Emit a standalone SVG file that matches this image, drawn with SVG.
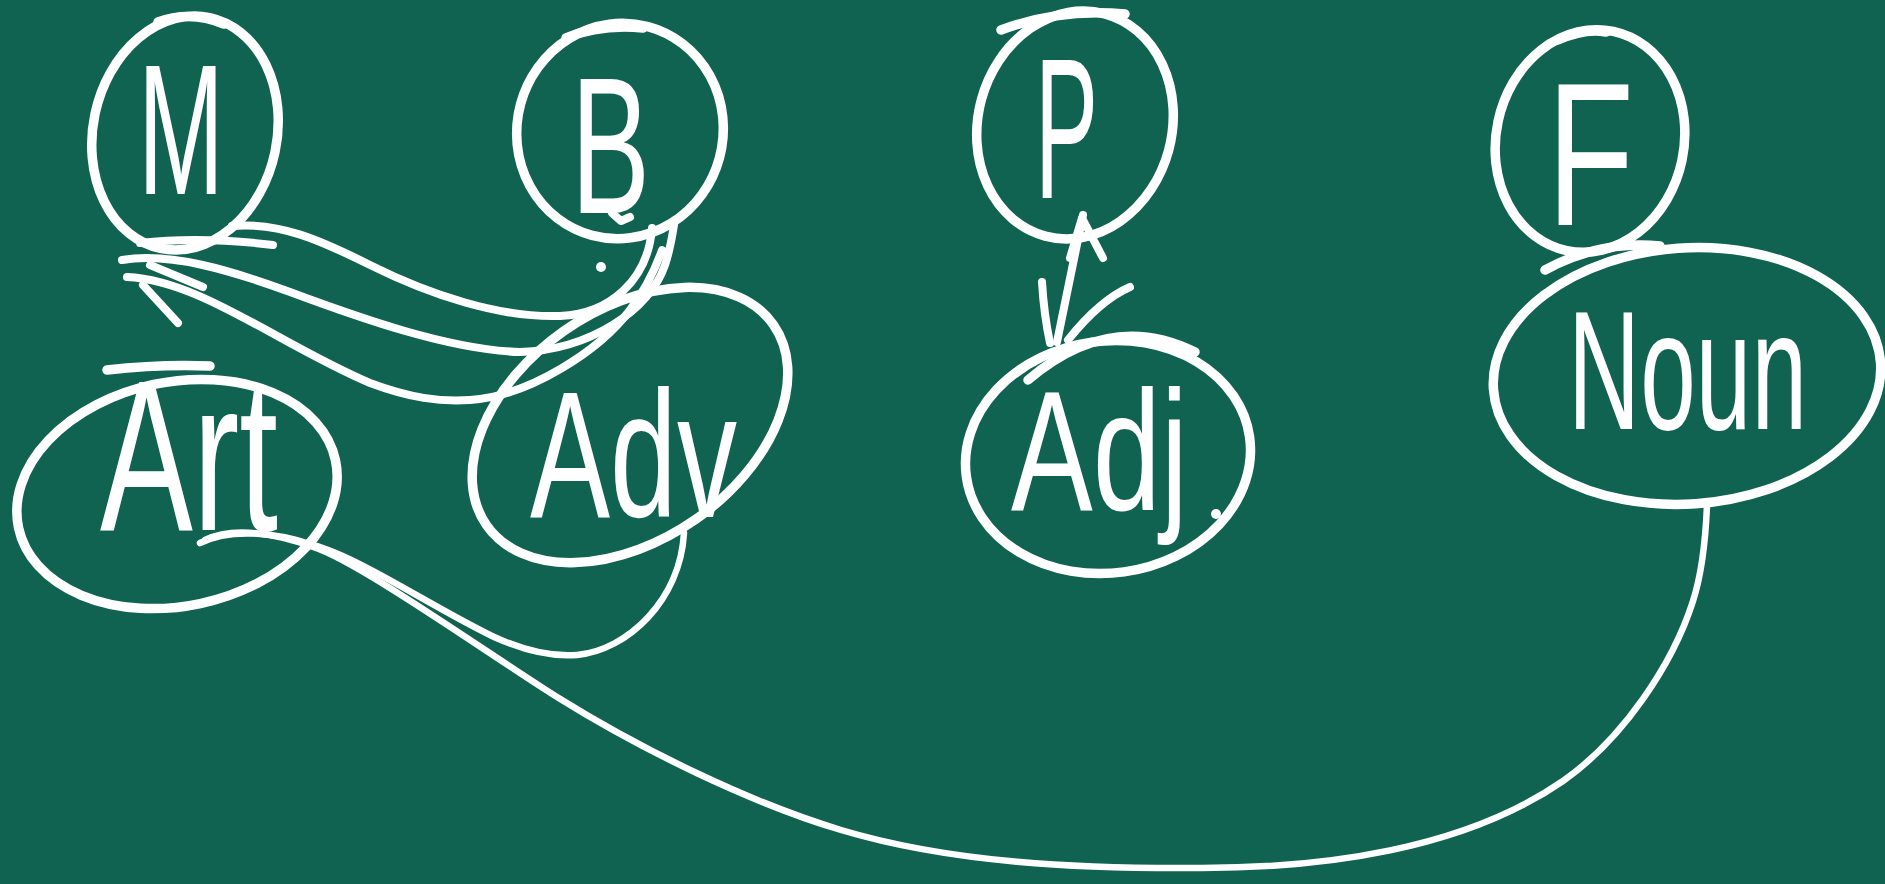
<svg xmlns="http://www.w3.org/2000/svg" width="1885" height="884" viewBox="0 0 1885 884">
<style>
.o{fill:none;stroke:#fff;stroke-width:9.5;stroke-linecap:round;stroke-linejoin:round}
.c{fill:none;stroke:#fff;stroke-width:8;stroke-linecap:round;stroke-linejoin:round}
.l{fill:none;stroke:#fff;stroke-width:6.5;stroke-linecap:round;stroke-linejoin:round}
.t{fill:#fff;font-family:"Liberation Sans",Arial,sans-serif;font-weight:normal}
</style>
<rect x="0" y="0" width="1885" height="884" fill="#0f6350"/>
<g id="node-M">
<ellipse class="o" cx="185" cy="133" rx="92" ry="118" transform="rotate(12 185 133)"/>
<path class="o" d="M158 22 Q190 10 224 24"/>
<text class="t" x="138" y="194" font-size="185" textLength="86" lengthAdjust="spacingAndGlyphs">M</text>
</g>
<g id="node-B">
<ellipse class="o" cx="620" cy="131" rx="103" ry="108" transform="rotate(15 620 131)"/>
<path class="o" d="M566 38 Q600 24 643 28"/>
<text class="t" x="571" y="213" font-size="195" textLength="79" lengthAdjust="spacingAndGlyphs">B</text>
</g>
<g id="node-P">
<ellipse class="o" cx="1075" cy="125" rx="97" ry="115" transform="rotate(15 1075 125)"/>
<path class="o" d="M1001 30 Q1060 8 1125 14"/>
<text class="t" x="1035" y="198" font-size="200" textLength="63" lengthAdjust="spacingAndGlyphs">P</text>
</g>
<g id="node-F">
<ellipse class="o" cx="1590" cy="141" rx="94" ry="112" transform="rotate(12 1590 141)"/>
<path class="o" d="M1558 40 Q1585 28 1606 32"/>
<text class="t" x="1547" y="225" font-size="205" textLength="87" lengthAdjust="spacingAndGlyphs">F</text>
</g>
<g id="node-Art">
<ellipse class="o" cx="177" cy="494" rx="162" ry="112" transform="rotate(-12 177 494)"/>
<path class="o" d="M107 370 Q160 364 210 366"/>
<text class="t" x="100" y="530" font-size="215" textLength="178" lengthAdjust="spacingAndGlyphs">Art</text>
</g>
<g id="node-Adv">
<ellipse class="o" cx="630" cy="425" rx="175" ry="115" transform="rotate(-35 630 425)"/>
<text class="t" x="530" y="517" font-size="180" textLength="207" lengthAdjust="spacingAndGlyphs">Adv</text>
</g>
<g id="node-Adj">
<ellipse class="o" cx="1108" cy="457" rx="143" ry="116" transform="rotate(-8 1108 457)"/>
<path class="o" d="M1028 380 Q1110 310 1195 352"/>
<circle cx="1216" cy="514" r="5" fill="#fff"/>
<text class="t" x="1011" y="510" font-size="170" textLength="177" lengthAdjust="spacingAndGlyphs">Adj</text>
</g>
<g id="node-Noun">
<ellipse class="o" cx="1687" cy="376" rx="194" ry="128" transform="rotate(-4 1687 376)"/>
<path class="o" d="M1545 270 Q1600 240 1660 246"/>
<text class="t" x="1568" y="429" font-size="125" textLength="239" lengthAdjust="spacingAndGlyphs" transform="matrix(1 0 0 1.35 0 -150.2)">Noun</text>
</g>
<g id="connectors">
<path class="c" d="M232 226 C280 222 320 240 370 265 C430 295 500 318 560 316 C610 314 648 280 652 228"/>
<path class="c" d="M122 260 C170 252 230 270 290 292 C360 318 450 350 520 352 C590 350 650 310 665 265 C670 250 672 238 674 225"/>
<path class="c" d="M127 277 C200 280 280 345 370 383 C410 398 440 402 470 400 C530 396 600 350 630 310 C645 290 655 270 662 250"/>
<path class="c" d="M140 243 Q200 236 273 245"/>
<path class="c" d="M150 265 L203 287"/>
<path class="c" d="M143 285 L178 323"/>
<path class="c" d="M612 213 L621 221 L630 217"/>
<circle cx="601" cy="267" r="5" fill="#fff"/>
<path class="c" d="M1083 215 L1057 342"/>
<path class="c" d="M1070 258 L1082 218 L1103 258"/>
<path class="c" d="M1042 282 Q1044 315 1050 343"/>
<path class="c" d="M1130 287 Q1100 300 1068 340"/>
<path class="l" d="M200 543 C230 528 275 532 313 545 C360 558 432 607 492 636 C522 650 552 657 577 655 C628 650 680 600 684 533"/>
<path class="l" d="M205 540 C235 525 280 535 313 547 C358 561 487 653 557 697 C642 750 751 803 841 830 C951 863 1080 869 1202 868 C1322 868 1463 850 1563 781 C1623 739 1673 664 1693 601 C1703 570 1706 530 1707 505"/>
</g>
</svg>
